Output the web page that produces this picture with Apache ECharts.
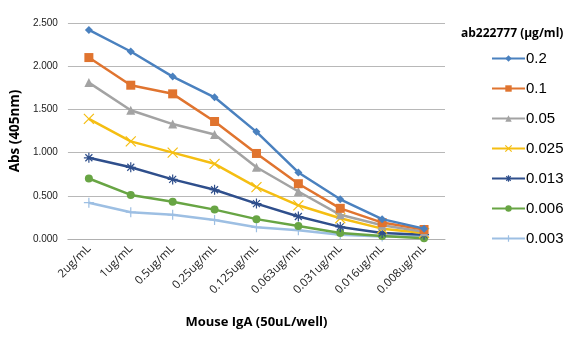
<!DOCTYPE html>
<html>
<head>
<meta charset="utf-8">
<script src="https://cdn.jsdelivr.net/npm/echarts@6/dist/echarts.min.js"></script>
<style>
  html, body { margin: 0; padding: 0; background: #fff; }
  #chart { width: 586px; height: 340px; }
</style>
</head>
<body>
<div id="chart"></div>
<script>
// Mouse IgA dilutions along the x axis
const categories = ['2ug/mL', '1ug/mL', '0.5ug/mL', '0.25ug/mL', '0.125ug/mL', '0.063ug/mL', '0.031ug/mL', '0.016ug/mL', '0.008ug/mL'];

// Absorbance at 405 nm for each ab222777 concentration (µg/ml)
const s0_2   = [2.42, 2.17, 1.88, 1.64, 1.24, 0.77, 0.46, 0.23, 0.12];
const s0_1   = [2.10, 1.78, 1.68, 1.36, 0.99, 0.64, 0.355, 0.19, 0.11];
const s0_05  = [1.81, 1.49, 1.33, 1.21, 0.83, 0.55, 0.28, 0.16, 0.085];
const s0_025 = [1.39, 1.13, 1.00, 0.87, 0.60, 0.39, 0.24, 0.12, 0.07];
const s0_013 = [0.94, 0.83, 0.69, 0.57, 0.41, 0.26, 0.14, 0.07, 0.05];
const s0_006 = [0.70, 0.51, 0.43, 0.34, 0.23, 0.15, 0.07, 0.035, 0.01];
const s0_003 = [0.42, 0.31, 0.28, 0.22, 0.135, 0.10, 0.05, 0.03, 0.03];

const seriesNames = ['0.2', '0.1', '0.05', '0.025', '0.013', '0.006', '0.003'];
const yTicks = [0, 0.5, 1.0, 1.5, 2.0, 2.5];

const colors = ['#4a81bf', '#e0742f', '#a3a3a3', '#f5be12', '#2f4f8c', '#68a544', '#9dbfe3'];

// marker shapes
const crossX = 'path://M0,0 L10,10 M10,0 L0,10';
const star = 'path://M5,0 L5,10 M0,5 L10,5 M1.5,1.5 L8.5,8.5 M8.5,1.5 L1.5,8.5';
const plus = 'path://M5,0 L5,10 M0,5 L10,5';

const seriesData = [s0_2, s0_1, s0_05, s0_025, s0_013, s0_006, s0_003];
const symbols = ['diamond', 'rect', 'triangle', crossX, star, 'circle', plus];
const sizes = [8, 9, 9, 10, 10, 8, 10];
const hollow = [false, false, false, true, true, false, true];

const series = seriesData.map((d, i) => ({
  name: seriesNames[i],
  type: 'line',
  data: d,
  symbol: symbols[i],
  symbolSize: sizes[i],
  showAllSymbol: true,
  lineStyle: { color: colors[i], width: 2.5 },
  itemStyle: hollow[i]
    ? { color: 'none', borderColor: colors[i], borderWidth: 1.2 }
    : { color: colors[i], borderWidth: 0 },
  emphasis: { disabled: true },
  animation: false,
  z: 10 - i
}));

// legend entries: line with a small marker of the same shape
const legendData = seriesNames.map((n, i) => ({
  name: n,
  itemStyle: hollow[i]
    ? { color: 'none', borderColor: colors[i], borderWidth: 1.2 }
    : { color: colors[i], borderWidth: 0 }
}));

const chart = echarts.init(document.getElementById('chart'), null, { renderer: 'canvas' });
chart.setOption({
  backgroundColor: '#ffffff',
  animation: false,
  color: colors,
  title: {
    text: 'ab222777 (μg/ml)',
    left: 456,
    top: 23,
    textStyle: { fontFamily: 'Open Sans, Liberation Sans, sans-serif', fontSize: 12, fontWeight: 'bold', color: '#000' }
  },
  legend: {
    orient: 'vertical',
    left: 486,
    top: 46,
    itemWidth: 33,
    itemHeight: 8,
    itemGap: 15,
    data: legendData,
    textStyle: { fontFamily: 'Liberation Sans, Arial, sans-serif', fontSize: 15, color: '#000', padding: [0, 0, 0, -4] }
  },
  grid: { left: 65, right: 141, top: 23, bottom: 101 },
  xAxis: {
    type: 'category',
    data: categories,
    boundaryGap: true,
    name: 'Mouse IgA (50uL/well)',
    nameLocation: 'middle',
    nameGap: 77,
    nameTextStyle: { fontFamily: 'Open Sans, Liberation Sans, sans-serif', fontSize: 13, fontWeight: 'bold', color: '#000' },
    axisLine: { lineStyle: { color: '#b0b0b0', width: 1 } },
    axisTick: { show: false },
    axisLabel: { rotate: 45, fontSize: 11.5, color: '#222', fontFamily: 'Open Sans, Liberation Sans, sans-serif', margin: 8, interval: 0 }
  },
  yAxis: {
    type: 'value',
    min: yTicks[0],
    max: yTicks[yTicks.length - 1],
    interval: 0.5,
    name: 'Abs (405nm)',
    nameLocation: 'middle',
    nameGap: 35,
    nameTextStyle: { fontFamily: 'Open Sans, Liberation Sans, sans-serif', fontSize: 13.5, fontWeight: 'bold', color: '#000' },
    axisLine: { show: false },
    axisTick: { show: false },
    splitLine: { lineStyle: { color: '#b8b8b8', width: 1 } },
    axisLabel: {
      fontSize: 10, color: '#222', fontFamily: 'Liberation Sans, Arial, sans-serif', margin: 10,
      formatter: v => v.toFixed(3)
    }
  },
  series: series
});
</script>
</body>
</html>
